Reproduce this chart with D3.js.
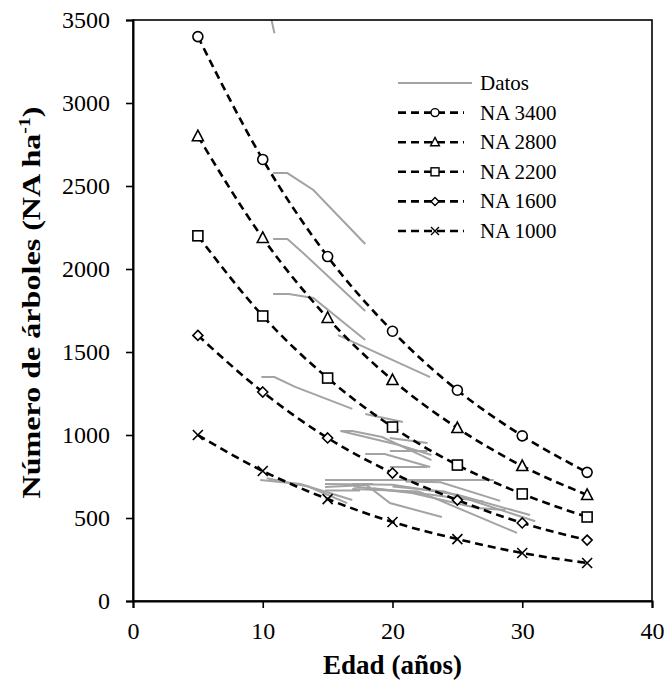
<!DOCTYPE html>
<html>
<head>
<meta charset="utf-8">
<script src="https://cdn.jsdelivr.net/npm/d3@7"></script>
<style>
  body { margin: 0; background: #fff; }
  svg text { font-family: "Liberation Serif", "Times New Roman", serif; fill: #000; }
</style>
</head>
<body>
<svg id="chart"></svg>
<script>
// model curves (age in years, trees per ha)
const ages = [5, 10, 15, 20, 25, 30, 35];
const na3400 = [3400, 2660, 2075, 1625, 1270, 995, 775];
const na2800 = [2800, 2187, 1705, 1331, 1042, 813, 639];
const na2200 = [2200, 1717, 1343, 1048, 819, 645, 506];
const na1600 = [1600, 1259, 982, 771, 608, 470, 367];
const na1000 = [1000, 783, 614, 476, 373, 289, 229];

const seriesNames = ['NA 3400', 'NA 2800', 'NA 2200', 'NA 1600', 'NA 1000'];
const seriesValues = [na3400, na2800, na2200, na1600, na1000];
const seriesMarks = ['circle', 'triangle', 'square', 'diamond', 'cross'];

// observed plots ("Datos"), [age, NA]
const datos = [
  [[10.4, 3600], [10.9, 3420]],
  [[10.8, 2578], [11.9, 2578], [13.9, 2476], [17.9, 2151]],
  [[10.8, 2181], [11.9, 2181], [13.2, 2090], [17.9, 1747]],
  [[10.8, 1849], [12.0, 1849], [13.9, 1825], [17.9, 1572]],
  [[15.8, 1602], [22.9, 1349]],
  [[9.9, 1349], [10.9, 1349], [12.5, 1290], [16.9, 1157]],
  [[17.9, 1127], [20.8, 1078]],
  [[16.0, 1024], [16.9, 1024], [19.2, 988], [23.0, 849]],
  [[16.0, 1024], [17.3, 1000], [20.5, 940], [23.0, 880]],
  [[19.8, 982], [22.7, 952]],
  [[19.8, 904], [22.7, 904]],
  [[17.9, 886], [19.4, 886], [22.9, 807]],
  [[19.8, 807], [22.7, 807]],
  [[14.8, 729], [27.8, 729]],
  [[14.8, 687], [18.0, 699], [19.8, 590], [23.8, 506]],
  [[14.8, 705], [20.0, 700], [25.0, 640], [30.6, 518]],
  [[16.9, 675], [22.0, 660], [29.6, 410]],
  [[9.8, 729], [12.9, 705], [16.9, 608]],
  [[10.3, 740], [13.5, 690], [16.5, 590]],
  [[14.8, 665], [17.5, 665]],
  [[16.9, 705], [18.5, 705]],
  [[21.0, 720], [23.7, 715], [28.3, 603]],
  [[20.0, 690], [24.0, 660], [31.0, 480]],
  [[17.0, 690], [21.5, 650], [26.5, 560], [28.7, 548]],
  [[18.5, 680], [23.0, 640], [27.0, 600]]
];

const xTicks = [0, 10, 20, 30, 40];
const yTicks = [0, 500, 1000, 1500, 2000, 2500, 3000, 3500];

const W = 665, H = 690;
const margin = { top: 20, right: 13, bottom: 89, left: 133 };
const w = W - margin.left - margin.right;
const h = H - margin.top - margin.bottom;

const svg = d3.select('#chart').attr('width', W).attr('height', H);

const x = d3.scaleLinear().domain([0, 40]).range([0, w]);
const y = d3.scaleLinear().domain([0, 3500]).range([h, 0]);

const g = svg.append('g').attr('transform', 'translate(' + margin.left + ',' + margin.top + ')');

svg.append('defs').append('clipPath').attr('id', 'clip')
  .append('rect').attr('width', w).attr('height', h);

const grey = '#a3a3a3';

const line = d3.line()
  .x(function (d) { return x(d[0]); })
  .y(function (d) { return y(d[1]); });

g.append('g').attr('clip-path', 'url(#clip)')
  .selectAll('path')
  .data(datos)
  .enter().append('path')
  .attr('d', line)
  .attr('fill', 'none')
  .attr('stroke', grey)
  .attr('stroke-width', 2);

const curve = d3.line()
  .curve(d3.curveMonotoneX)
  .x(function (d) { return x(d[0]); })
  .y(function (d) { return y(d[1]); });

function drawMark (sel, kind, s) {
  if (kind === 'circle') {
    sel.append('circle').attr('r', s * 0.5);
  } else if (kind === 'square') {
    sel.append('rect').attr('x', -s / 2).attr('y', -s / 2).attr('width', s).attr('height', s);
  } else if (kind === 'triangle') {
    sel.append('path').attr('d', 'M0,' + (-s * 0.6) + 'L' + (s * 0.55) + ',' + (s * 0.45) + 'L' + (-s * 0.55) + ',' + (s * 0.45) + 'Z');
  } else if (kind === 'diamond') {
    const r = s * 0.5;
    sel.append('path').attr('d', 'M0,' + (-r) + 'L' + r + ',0L0,' + r + 'L' + (-r) + ',0Z');
  } else {
    const r = s * 0.5;
    sel.append('path').attr('d', 'M' + (-r) + ',' + (-r) + 'L' + r + ',' + r + 'M' + r + ',' + (-r) + 'L' + (-r) + ',' + r);
  }
}

seriesValues.forEach(function (vals, i) {
  const pts = ages.map(function (a, j) { return [a, vals[j]]; });
  g.append('path')
    .attr('d', curve(pts))
    .attr('fill', 'none')
    .attr('stroke', '#000')
    .attr('stroke-width', 2.6)
    .attr('stroke-dasharray', '8,5');

  g.append('g').selectAll('g')
    .data(pts)
    .enter().append('g')
    .attr('transform', function (d) { return 'translate(' + x(d[0]) + ',' + y(d[1]) + ')'; })
    .attr('fill', '#fff')
    .attr('stroke', '#000')
    .attr('stroke-width', 1.6)
    .each(function () { drawMark(d3.select(this), seriesMarks[i], 10); });
});

// frame
g.append('rect')
  .attr('width', w).attr('height', h)
  .attr('fill', 'none').attr('stroke', '#000').attr('stroke-width', 1.6);

const xAxis = g.append('g')
  .attr('transform', 'translate(0,' + h + ')')
  .call(d3.axisBottom(x).tickValues(xTicks).tickSize(7).tickPadding(14).tickFormat(d3.format('d')));
const yAxis = g.append('g')
  .call(d3.axisLeft(y).tickValues(yTicks).tickSize(7).tickPadding(16).tickFormat(d3.format('d')));

[xAxis, yAxis].forEach(function (ax) {
  ax.select('.domain').attr('stroke-width', 2);
  ax.selectAll('.tick line').attr('stroke-width', 1.6);
  ax.selectAll('text')
    .attr('font-family', '"Liberation Serif", serif')
    .attr('font-size', 24)
    .attr('fill', '#000');
});

svg.append('text')
  .attr('x', margin.left + w / 2)
  .attr('y', 674)
  .attr('text-anchor', 'middle')
  .attr('font-weight', 'bold')
  .attr('font-size', 27)
  .text('Edad (años)');

const yl = svg.append('text')
  .attr('transform', 'translate(40,' + (margin.top + h / 2 - 8) + ') rotate(-90)')
  .attr('text-anchor', 'middle')
  .attr('font-weight', 'bold')
  .attr('font-size', 26)
  .attr('textLength', 392)
  .attr('lengthAdjust', 'spacingAndGlyphs');
yl.append('tspan').text('Número de árboles (NA ha');
yl.append('tspan').attr('font-size', 16).attr('dy', -10).text('-1');
yl.append('tspan').attr('dy', 10).text(')');

// legend
const legend = svg.append('g').attr('transform', 'translate(398,83)');
const rowH = 29.6;

legend.append('line')
  .attr('x1', 0).attr('x2', 74).attr('y1', 0).attr('y2', 0)
  .attr('stroke', grey).attr('stroke-width', 2);
legend.append('text').attr('x', 82).attr('y', 7).attr('font-size', 21).text('Datos');

seriesNames.forEach(function (name, i) {
  const row = legend.append('g').attr('transform', 'translate(0,' + ((i + 1) * rowH) + ')');
  row.append('line')
    .attr('x1', 0).attr('x2', 66).attr('y1', 0).attr('y2', 0)
    .attr('stroke', '#000').attr('stroke-width', 2.6)
    .attr('stroke-dasharray', '8,5');
  const m = row.append('g')
    .attr('transform', 'translate(37,0)')
    .attr('fill', '#fff').attr('stroke', '#000').attr('stroke-width', 1.4);
  drawMark(m, seriesMarks[i], 8);
  row.append('text').attr('x', 82).attr('y', 7).attr('font-size', 21).text(name);
});
</script>
</body>
</html>
